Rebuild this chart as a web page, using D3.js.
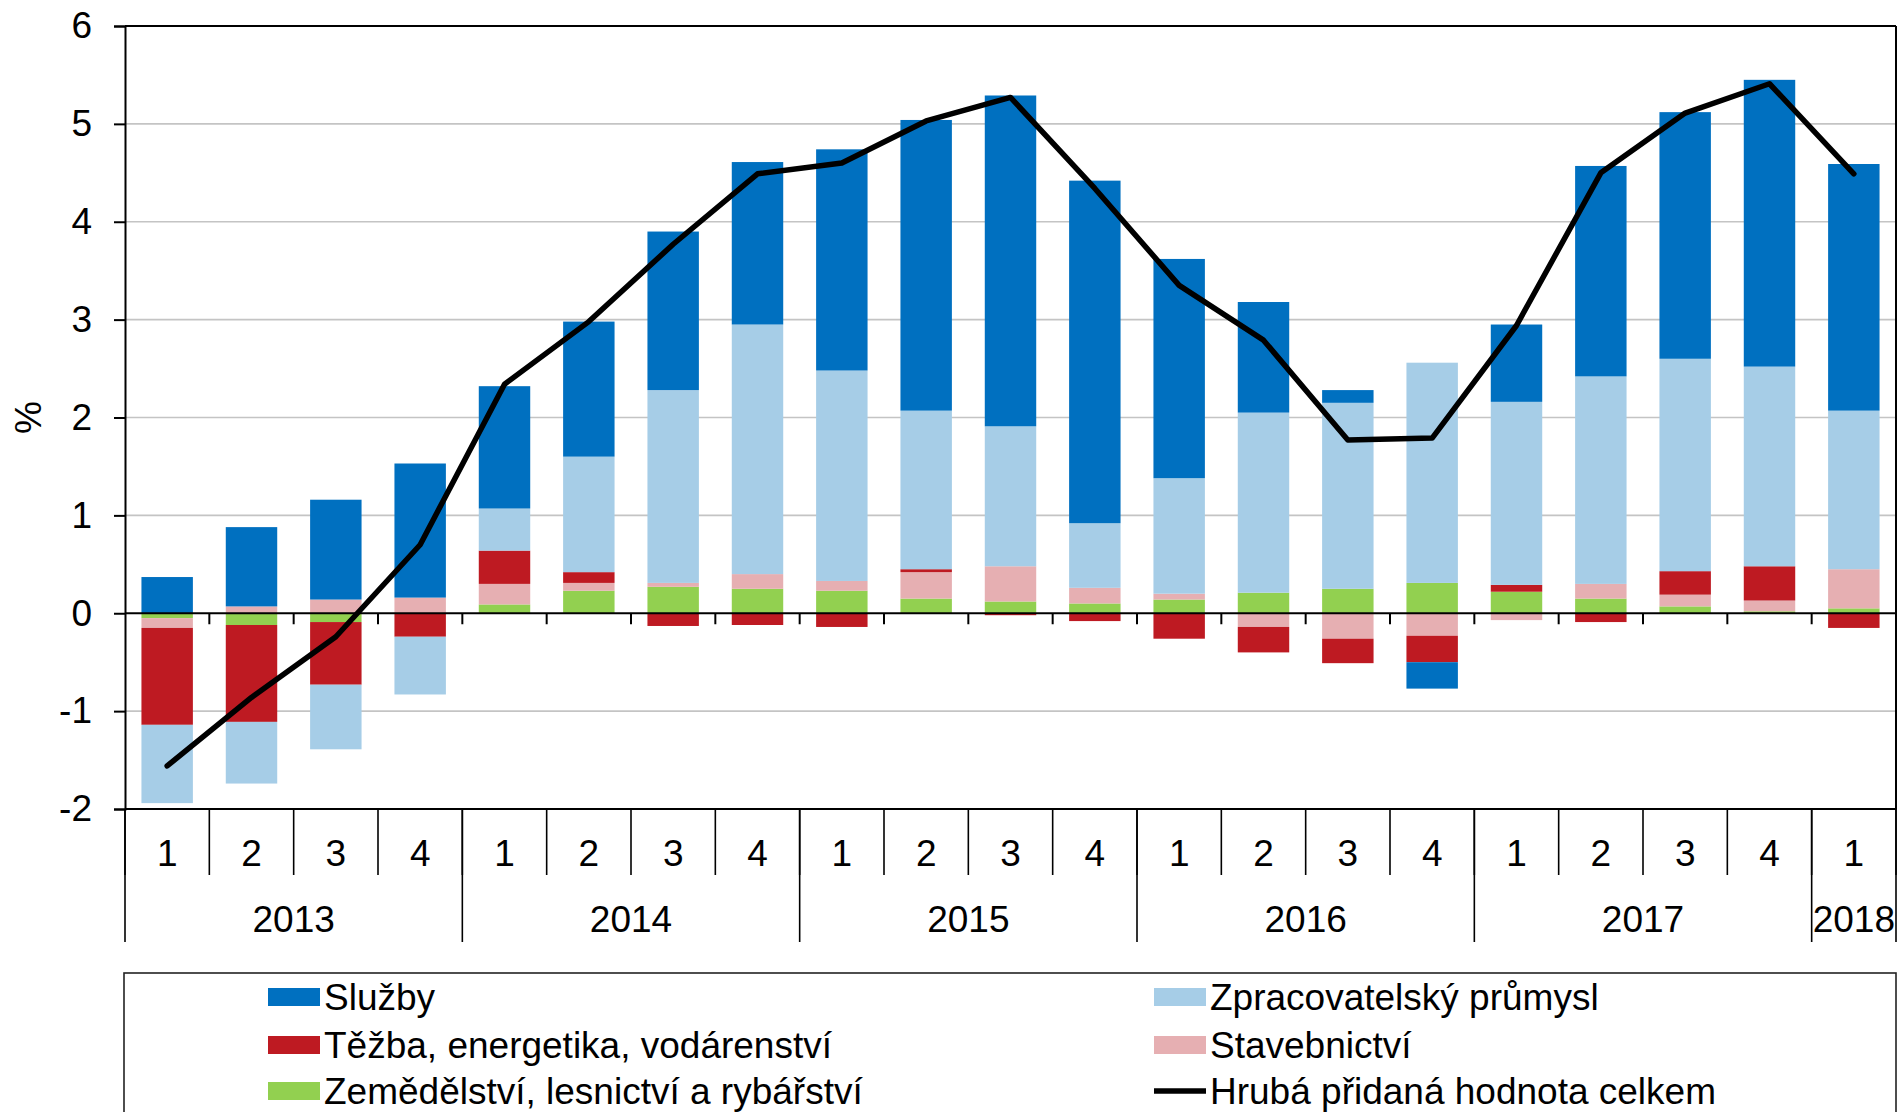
<!DOCTYPE html>
<html>
<head>
<meta charset="utf-8">
<script src="https://cdn.jsdelivr.net/npm/d3@7"></script>
<style>
  body { margin: 0; background: #fff; }
  svg { display: block; font-family: "Liberation Sans", Arial, sans-serif; }
</style>
</head>
<body>
<div id="chart-root"></div>
<script>
// Quarters 2013Q1 .. 2018Q1
const quarters = ["1","2","3","4","1","2","3","4","1","2","3","4","1","2","3","4","1","2","3","4","1"]
const years = ["2013","2014","2015","2016","2017","2018"]
const yearSpans = [4, 4, 4, 4, 4, 1]

// contributions (p.b.)
const sluzby =         [0.37, 0.81, 1.02, 1.37, 1.25, 1.38, 1.62, 1.66, 2.26, 2.97, 3.38, 3.50, 2.24, 1.13, 0.13, -0.27, 0.79, 2.15, 2.52, 2.93, 2.52]
const zpracovatelsky = [-0.80, -0.63, -0.66, -0.59, 0.43, 1.18, 1.97, 2.55, 2.15, 1.62, 1.43, 0.66, 1.18, 1.84, 1.90, 2.25, 1.87, 2.12, 2.17, 2.04, 1.62]
const tezba =          [-0.99, -0.99, -0.64, -0.24, 0.34, 0.11, -0.13, -0.12, -0.14, 0.03, -0.02, -0.08, -0.26, -0.26, -0.25, -0.27, 0.07, -0.09, 0.24, 0.35, -0.15]
const stavebnictvi =   [-0.10, 0.07, 0.14, 0.16, 0.21, 0.08, 0.04, 0.15, 0.10, 0.27, 0.36, 0.16, 0.06, -0.14, -0.26, -0.23, -0.07, 0.15, 0.12, 0.11, 0.40]
const zemedelstvi =    [-0.05, -0.12, -0.09, 0.00, 0.09, 0.23, 0.27, 0.25, 0.23, 0.15, 0.12, 0.10, 0.14, 0.21, 0.25, 0.31, 0.22, 0.15, 0.07, 0.02, 0.05]
const hpCelkem =       [-1.56, -0.86, -0.24, 0.70, 2.34, 2.98, 3.77, 4.49, 4.60, 5.03, 5.27, 4.34, 3.35, 2.79, 1.77, 1.79, 2.94, 4.50, 5.11, 5.41, 4.49]

const yTicks = [-2, -1, 0, 1, 2, 3, 4, 5, 6]

const series = [
  {key: "zem", name: "Zemědělství, lesnictví a rybářství", values: zemedelstvi, color: "#92D050"},
  {key: "stav", name: "Stavebnictví", values: stavebnictvi, color: "#E6AFB2"},
  {key: "tez", name: "Těžba, energetika, vodárenství", values: tezba, color: "#BE1A22"},
  {key: "zpr", name: "Zpracovatelský průmysl", values: zpracovatelsky, color: "#A6CDE7"},
  {key: "slu", name: "Služby", values: sluzby, color: "#0070C0"},
]

const width = 1899, height = 1112
const plot = {left: 125, right: 1896, top: 26, bottom: 809}
const fontSize = 37

const svg = d3.select("#chart-root")
  .append("svg")
    .attr("width", width)
    .attr("height", height)

const idx = d3.range(quarters.length)

const x = d3.scaleBand()
  .domain(idx)
  .range([plot.left, plot.right])
  .paddingInner(0.39)
  .paddingOuter(0.195)

const step = x.step()
const boundary = i => plot.left + i * step

const y = d3.scaleLinear()
  .domain([-2, 6])
  .range([plot.bottom, plot.top])

// Gridlines
svg.append("g")
  .selectAll("line")
  .data(yTicks.filter(t => t !== 0 && t !== 6 && t !== -2))
  .enter()
  .append("line")
  .attr("x1", plot.left)
  .attr("x2", plot.right)
  .attr("y1", d => y(d))
  .attr("y2", d => y(d))
  .attr("stroke", "#C4C4C4")
  .attr("stroke-width", 1.6)

// Stacked bars
const table = idx.map(i => {
  const row = {i}
  series.forEach(s => row[s.key] = s.values[i])
  return row
})

const stacked = d3.stack()
  .keys(series.map(s => s.key))
  .offset(d3.stackOffsetDiverging)(table)

svg.append("g")
  .selectAll("g.layer")
  .data(stacked)
  .enter()
  .append("g")
  .classed("layer", true)
  .attr("fill", (d, i) => series[i].color)
  .selectAll("rect")
  .data(d => d)
  .enter()
  .append("rect")
  .attr("x", d => x(d.data.i))
  .attr("width", x.bandwidth())
  .attr("y", d => y(Math.max(d[0], d[1])))
  .attr("height", d => Math.abs(y(d[0]) - y(d[1])))

// Plot frame: top, right, bottom and zero line
const frame = svg.append("g").attr("stroke", "#000").attr("stroke-width", 2)
frame.append("line").attr("x1", plot.left).attr("x2", plot.right).attr("y1", y(6)).attr("y2", y(6))
frame.append("line").attr("x1", plot.right).attr("x2", plot.right).attr("y1", y(6)).attr("y2", y(-2))
frame.append("line").attr("x1", plot.left).attr("x2", plot.right).attr("y1", y(-2)).attr("y2", y(-2))
frame.append("line").attr("x1", plot.left).attr("x2", plot.right).attr("y1", y(0)).attr("y2", y(0))

// ticks at zero line between quarters
frame.selectAll("line.qtick")
  .data(d3.range(1, quarters.length))
  .enter()
  .append("line")
  .classed("qtick", true)
  .attr("x1", d => boundary(d))
  .attr("x2", d => boundary(d))
  .attr("y1", y(0))
  .attr("y2", y(0) + 11)

// Y axis
const yAxis = svg.append("g")
  .attr("transform", `translate(${plot.left},0)`)
  .call(d3.axisLeft(y).tickValues(yTicks).tickSize(11).tickPadding(22).tickFormat(d => String(d)))

yAxis.select(".domain").attr("stroke", "#000").attr("stroke-width", 2)
yAxis.selectAll(".tick line").attr("stroke", "#000").attr("stroke-width", 2)
yAxis.selectAll(".tick text")
  .attr("font-size", fontSize)
  .attr("font-family", "Liberation Sans, Arial, sans-serif")
  .attr("fill", "#000")

svg.append("text")
  .attr("transform", `translate(41,${(plot.top + plot.bottom) / 2}) rotate(-90)`)
  .attr("text-anchor", "middle")
  .attr("font-size", fontSize)
  .text("%")

// Line - total GVA
const line = d3.line()
  .x((d, i) => x(i) + x.bandwidth() / 2)
  .y(d => y(d))

svg.append("path")
  .datum(hpCelkem)
  .attr("fill", "none")
  .attr("stroke", "#000")
  .attr("stroke-width", 5.5)
  .attr("stroke-linejoin", "round")
  .attr("stroke-linecap", "round")
  .attr("d", line)

// Category table below plot
const qRowBottom = 875, yRowBottom = 942
const cat = svg.append("g").attr("stroke", "#000").attr("stroke-width", 1.6)

cat.selectAll("line.qsep")
  .data(d3.range(0, quarters.length + 1))
  .enter()
  .append("line")
  .attr("x1", d => boundary(d))
  .attr("x2", d => boundary(d))
  .attr("y1", plot.bottom)
  .attr("y2", qRowBottom)

const yearStarts = yearSpans.reduce((acc, n) => { acc.push(acc[acc.length - 1] + n); return acc }, [0])

cat.selectAll("line.ysep")
  .data(yearStarts)
  .enter()
  .append("line")
  .attr("x1", d => boundary(d))
  .attr("x2", d => boundary(d))
  .attr("y1", plot.bottom)
  .attr("y2", yRowBottom)

svg.append("g")
  .selectAll("text")
  .data(quarters)
  .enter()
  .append("text")
  .attr("x", (d, i) => x(i) + x.bandwidth() / 2)
  .attr("y", 866)
  .attr("text-anchor", "middle")
  .attr("font-size", fontSize)
  .text(d => d)

svg.append("g")
  .selectAll("text")
  .data(years)
  .enter()
  .append("text")
  .attr("x", (d, i) => (boundary(yearStarts[i]) + boundary(yearStarts[i + 1])) / 2)
  .attr("y", 932)
  .attr("text-anchor", "middle")
  .attr("font-size", fontSize)
  .text(d => d)

// Legend
svg.append("rect")
  .attr("x", 124)
  .attr("y", 973)
  .attr("width", 1896 - 124)
  .attr("height", 200)
  .attr("fill", "none")
  .attr("stroke", "#222")
  .attr("stroke-width", 1.6)

const legendItems = [
  {name: "Služby", color: "#0070C0", col: 0, row: 0},
  {name: "Těžba, energetika, vodárenství", color: "#BE1A22", col: 0, row: 1},
  {name: "Zemědělství, lesnictví a rybářství", color: "#92D050", col: 0, row: 2},
  {name: "Zpracovatelský průmysl", color: "#A6CDE7", col: 1, row: 0},
  {name: "Stavebnictví", color: "#E6AFB2", col: 1, row: 1},
  {name: "Hrubá přidaná hodnota celkem", line: true, col: 1, row: 2},
]
const legendCols = [268, 1154]
const legendRows = [997, 1045, 1091]

const lg = svg.append("g")
  .selectAll("g")
  .data(legendItems)
  .enter()
  .append("g")
  .attr("transform", d => `translate(${legendCols[d.col]},${legendRows[d.row]})`)

lg.filter(d => !d.line)
  .append("rect")
  .attr("x", 0)
  .attr("y", -9)
  .attr("width", 52)
  .attr("height", 18)
  .attr("fill", d => d.color)

lg.filter(d => d.line)
  .append("line")
  .attr("x1", 0)
  .attr("x2", 52)
  .attr("stroke", "#000")
  .attr("stroke-width", 5.5)

lg.append("text")
  .attr("x", 56)
  .attr("y", 13)
  .attr("font-size", fontSize)
  .text(d => d.name)
</script>
</body>
</html>
